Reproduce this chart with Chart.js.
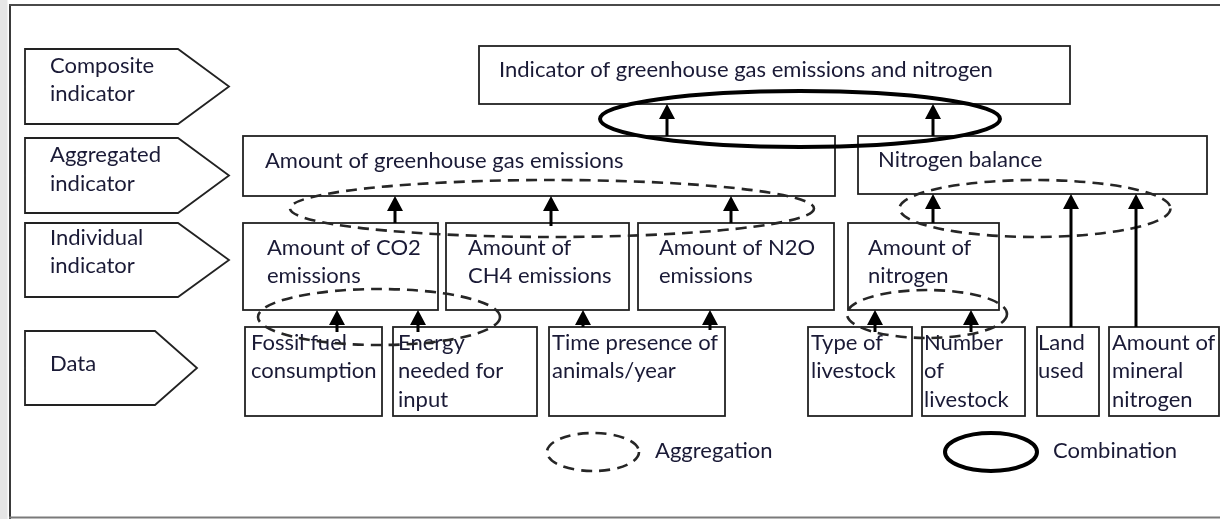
<!DOCTYPE html>
<html><head><meta charset="utf-8">
<script src="https://cdn.jsdelivr.net/npm/chart.js@4.4.1/dist/chart.umd.min.js"></script>
<style>html,body{margin:0;padding:0;background:#fff;overflow:hidden}canvas{display:block}</style>
</head><body>
<canvas id="c" width="1220" height="519"></canvas>
<script>
// ---- diagram data (in chart units: x 0..1220, y 0..519 top-down) ----
const rowLabels   = [['Composite','indicator'],['Aggregated','indicator'],['Individual','indicator'],['Data']];
const rowTop      = [49, 138, 223, 331];
const rowBottom   = [124, 213, 297, 405];
const rowNotch    = [178, 178, 178, 155];
const rowTip      = [229, 229, 229, 197];
const rowBaseline = [[73,101],[162,191],[245,273],[371]];

const nodeText = [
  ['Indicator of greenhouse gas emissions and nitrogen'],
  ['Amount of greenhouse gas emissions'],
  ['Nitrogen balance'],
  ['Amount of CO2','emissions'],
  ['Amount of','CH4 emissions'],
  ['Amount of N2O','emissions'],
  ['Amount of','nitrogen'],
  ['Fossil fuel','consumption'],
  ['Energy','needed for','input'],
  ['Time presence of','animals/year'],
  ['Type of','livestock'],
  ['Number','of','livestock'],
  ['Land','used'],
  ['Amount of','mineral','nitrogen']
];
const nodeX0 = [479, 243, 858, 243, 446, 638, 848, 245, 393, 549, 808, 922, 1037, 1109];
const nodeX1 = [1070,835,1207,438, 629, 834, 999, 382, 537, 725, 912, 1025,1099, 1219];
const nodeY0 = [46, 136, 136, 223, 223, 223, 223, 327, 327, 327, 327, 327, 327, 327];
const nodeY1 = [104,196, 194, 310, 310, 310, 310, 416, 416, 416, 416, 416, 416, 416];
const nodeTextX = [499, 265, 878, 267, 468, 659, 868, 251, 398, 552, 811, 924, 1038, 1112];
const nodeBaselines = [[77],[168],[167],[255,283],[255,283],[255,283],[255,283],
  [350,378],[350,378,407],[350,378],[350,378],[350,378,407],[350,378],[350,378,407]];

// arrows: x, from y, to y (tip)
const arrowX    = [667, 933, 395, 551, 731, 933, 1071, 1136, 337, 418, 583, 710, 875, 971];
const arrowFrom = [136, 136, 223, 226, 223, 223, 327,  327,  332, 332, 327, 330, 332, 332];
const arrowTo   = [104, 104, 196, 196, 196, 194, 194,  194,  310, 310, 310, 310, 310, 310];

// ellipses: cx, cy, rx, ry, kind
const ellCX   = [800, 552, 1035, 379, 927, 593, 991];
const ellCY   = [119, 208.5, 208.5, 317, 314, 452, 452];
const ellRX   = [200, 262, 135.5, 121, 80, 46, 46];
const ellRY   = [28, 28.5, 28.5, 28, 24, 19, 19];
const ellKind = ['combination','aggregation','aggregation','aggregation','aggregation','aggregation','combination'];

const legendText  = ['Aggregation','Combination'];
const legendX     = [655, 1053];
const legendBase  = [458, 458];

const TEXT_COLOR = '#1a1a36';
const LINE_COLOR = '#222222';
const FONT_FAMILY = 'Lato, "Open Sans", sans-serif';

const diagramPlugin = {
  id: 'diagram',
  beforeDraw(chart) {
    const ctx = chart.ctx;
    ctx.save();
    ctx.fillStyle = '#ffffff';
    ctx.fillRect(0, 0, chart.width, chart.height);
    ctx.restore();
  },
  afterDraw(chart) {
    const ctx = chart.ctx;
    const xs = chart.scales.x, ys = chart.scales.y;
    const X = v => xs.getPixelForValue(v);
    const Y = v => ys.getPixelForValue(v);

    // font calibration
    ctx.save();
    ctx.font = '20px ' + FONT_FAMILY;
    const w20 = ctx.measureText(nodeText[0][0]).width;
    const targetW = X(993) - X(499);
    const fs = 20 * targetW / w20;
    ctx.restore();
    const font = fs.toFixed(2) + 'px ' + FONT_FAMILY;

    ctx.save();
    // page frame
    ctx.fillStyle = '#e6e6e6';
    ctx.fillRect(0, 0, X(7.5), chart.height);
    ctx.strokeStyle = '#3a3a3a';
    ctx.lineWidth = 2;
    ctx.beginPath(); ctx.moveTo(X(10), Y(4)); ctx.lineTo(X(10), Y(519)); ctx.stroke();
    ctx.strokeStyle = '#4a4a4a';
    ctx.beginPath(); ctx.moveTo(X(9), Y(5)); ctx.lineTo(X(1220), Y(5)); ctx.stroke();
    ctx.strokeStyle = '#7a7a7a';
    ctx.beginPath(); ctx.moveTo(X(9), Y(517.5)); ctx.lineTo(X(1220), Y(517.5)); ctx.stroke();

    // row label pentagons
    ctx.lineWidth = 1.8;
    ctx.strokeStyle = LINE_COLOR;
    ctx.lineJoin = 'miter';
    for (let i = 0; i < rowLabels.length; i++) {
      const t = rowTop[i], b = rowBottom[i];
      ctx.beginPath();
      ctx.moveTo(X(25), Y(t));
      ctx.lineTo(X(rowNotch[i]), Y(t));
      ctx.lineTo(X(rowTip[i]), Y((t + b) / 2));
      ctx.lineTo(X(rowNotch[i]), Y(b));
      ctx.lineTo(X(25), Y(b));
      ctx.closePath();
      ctx.stroke();
    }

    // node boxes
    for (let i = 0; i < nodeText.length; i++) {
      ctx.strokeRect(X(nodeX0[i]), Y(nodeY0[i]), X(nodeX1[i]) - X(nodeX0[i]), Y(nodeY1[i]) - Y(nodeY0[i]));
    }

    // texts
    ctx.fillStyle = TEXT_COLOR;
    ctx.font = font;
    ctx.textAlign = 'left';
    ctx.textBaseline = 'alphabetic';
    for (let i = 0; i < rowLabels.length; i++) {
      rowLabels[i].forEach((s, k) => ctx.fillText(s, X(50), Y(rowBaseline[i][k])));
    }
    for (let i = 0; i < nodeText.length; i++) {
      nodeText[i].forEach((s, k) => ctx.fillText(s, X(nodeTextX[i]), Y(nodeBaselines[i][k])));
    }
    for (let i = 0; i < legendText.length; i++) {
      ctx.fillText(legendText[i], X(legendX[i]), Y(legendBase[i]));
    }

    // ellipses
    for (let i = 0; i < ellCX.length; i++) {
      ctx.beginPath();
      const rx = Math.abs(X(ellCX[i] + ellRX[i]) - X(ellCX[i]));
      const ry = Math.abs(Y(ellCY[i] + ellRY[i]) - Y(ellCY[i]));
      ctx.ellipse(X(ellCX[i]), Y(ellCY[i]), rx, ry, 0, 0, Math.PI * 2);
      if (ellKind[i] === 'combination') {
        ctx.setLineDash([]);
        ctx.lineWidth = 4;
        ctx.strokeStyle = '#000';
      } else {
        ctx.setLineDash([11, 7]);
        ctx.lineWidth = 2.6;
        ctx.strokeStyle = '#262626';
      }
      ctx.stroke();
    }
    ctx.setLineDash([]);

    // arrows
    ctx.strokeStyle = '#000';
    ctx.fillStyle = '#000';
    for (let i = 0; i < arrowX.length; i++) {
      const x = X(arrowX[i]), y0 = Y(arrowFrom[i]), y1 = Y(arrowTo[i]);
      const head = 15, half = 8;
      ctx.lineWidth = 3;
      ctx.beginPath(); ctx.moveTo(x, y0); ctx.lineTo(x, y1 + head - 1); ctx.stroke();
      ctx.beginPath();
      ctx.moveTo(x, y1);
      ctx.lineTo(x - half, y1 + head);
      ctx.lineTo(x + half, y1 + head);
      ctx.closePath();
      ctx.fill();
    }
    ctx.restore();
  }
};

new Chart(document.getElementById('c'), {
  type: 'scatter',
  data: { datasets: [{ data: [], pointRadius: 0 }] },
  options: {
    responsive: false,
    devicePixelRatio: 1,
    animation: false,
    layout: { padding: 0 },
    plugins: { legend: { display: false }, tooltip: { enabled: false } },
    scales: {
      x: { type: 'linear', min: 0, max: 1220, display: false },
      y: { type: 'linear', min: 0, max: 519, reverse: true, display: false }
    }
  },
  plugins: [diagramPlugin]
});
</script>
</body></html>
